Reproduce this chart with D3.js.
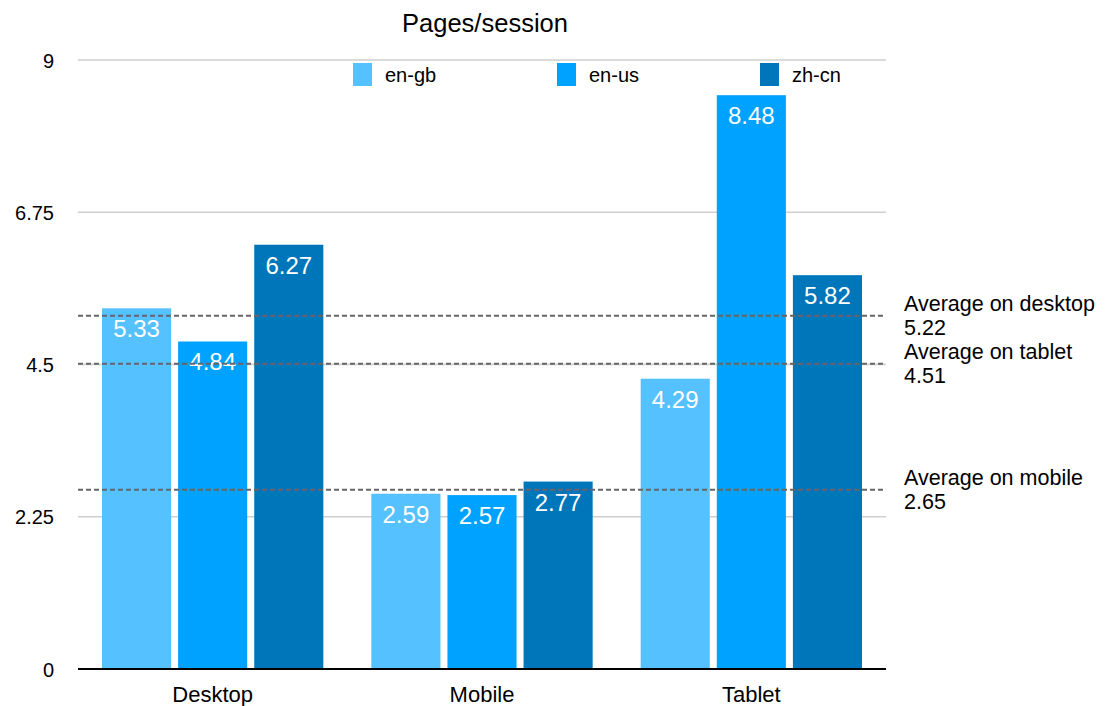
<!DOCTYPE html>
<html><head><meta charset="utf-8">
<script src="https://cdn.jsdelivr.net/npm/d3@7"></script>
<style>body{margin:0;background:#fff}svg{font-family:"Liberation Sans",Arial,Helvetica,sans-serif}</style>
</head><body><svg id="c" width="1108" height="706"></svg>
<script>
const categories = ["Desktop","Mobile","Tablet"];
const seriesNames = ["en-gb","en-us","zh-cn"];
const enGb = [5.33, 2.59, 4.29];
const enUs = [4.84, 2.57, 8.48];
const zhCn = [6.27, 2.77, 5.82];
const yTicks = [0, 2.25, 4.5, 6.75, 9];
const avgLabels = ["Average on desktop","Average on tablet","Average on mobile"];
const avgValues = [5.22, 4.51, 2.65];
const colors = ["#56C1FF","#00A2FF","#0076BA"];

const svg = d3.select("#c");
const L=78, R=886, T=60, B=669;
const FF = "Liberation Sans, Arial, sans-serif";
const y = d3.scaleLinear().domain([0,9]).range([B,T]);
const x0 = d3.scaleBand().domain(categories).range([L,R]).padding(0);
const x1 = d3.scaleBand().domain(seriesNames).range([24, x0.bandwidth()-24]).paddingInner(0.092).paddingOuter(0);
const series = [enGb,enUs,zhCn];

// gridlines
svg.append("g").selectAll("line").data(yTicks.filter(d=>d>0)).join("line")
  .attr("x1",L).attr("x2",R).attr("y1",d=>y(d)).attr("y2",d=>y(d))
  .attr("stroke","#cfcfcf").attr("stroke-width",1.5);
// y labels
const yAxis = d3.axisLeft(y).tickValues(yTicks).tickSize(0).tickPadding(0).tickFormat(d=>String(d));
const ya = svg.append("g").attr("transform",`translate(54,0)`).call(yAxis);
ya.select(".domain").remove();
ya.selectAll("text").attr("font-size",20).attr("fill","#000").attr("font-family",FF).attr("dy","0.35em");

// bars
const groups = svg.append("g").selectAll("g").data(categories).join("g")
  .attr("transform",d=>`translate(${x0(d)},0)`);
groups.selectAll("rect").data((c,i)=>seriesNames.map((s,j)=>({s,v:series[j][i]}))).join("rect")
  .attr("x",d=>x1(d.s)).attr("width",x1.bandwidth())
  .attr("y",d=>y(d.v)).attr("height",d=>B-y(d.v))
  .attr("fill",d=>colors[seriesNames.indexOf(d.s)]);

// average lines
svg.append("g").selectAll("line").data(avgValues).join("line")
  .attr("x1",L).attr("x2",R).attr("y1",d=>y(d)).attr("y2",d=>y(d))
  .attr("stroke","#666").attr("stroke-width",2).attr("stroke-dasharray","5,3");

// value labels
groups.selectAll("text.v").data((c,i)=>seriesNames.map((s,j)=>({s,v:series[j][i]}))).join("text")
  .attr("class","v")
  .attr("x",d=>x1(d.s)+x1.bandwidth()/2).attr("y",d=>y(d.v)+29)
  .attr("text-anchor","middle").attr("fill","#fff").attr("font-size",24)
  .text(d=>d.v.toFixed(2));

// axis line
svg.append("line").attr("x1",L).attr("x2",R).attr("y1",B).attr("y2",B).attr("stroke","#000").attr("stroke-width",2);
// x labels
const xa = svg.append("g").attr("transform",`translate(0,${B})`).call(d3.axisBottom(x0).tickSize(0).tickPadding(0));
xa.select(".domain").remove();
xa.selectAll("text").attr("font-size",22).attr("fill","#000").attr("font-family",FF).attr("y",33).attr("dy",null);

// avg annotation text
const ann = svg.append("g").selectAll("text").data(avgValues).join("text")
  .attr("x",904).attr("y",d=>y(d)-5).attr("font-size",21.5).attr("fill","#000");
ann.append("tspan").attr("x",904).text((d,i)=>avgLabels[i]);
ann.append("tspan").attr("x",904).attr("dy",24).text(d=>d.toFixed(2));

// title
svg.append("text").attr("x",485).attr("y",32).attr("text-anchor","middle").attr("font-size",25.5).text("Pages/session");

// legend
const legX = [353,557,760];
const lg = svg.append("g").selectAll("g").data(seriesNames).join("g").attr("transform",(d,i)=>`translate(${legX[i]},63)`);
lg.append("rect").attr("width",19).attr("height",23).attr("fill",(d,i)=>colors[i]);
lg.append("text").attr("x",32).attr("y",19).attr("font-size",20).text(d=>d);
</script></body></html>
